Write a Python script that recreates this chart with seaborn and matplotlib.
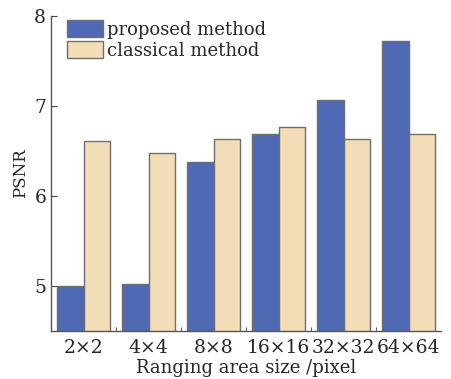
import numpy as np
import pandas as pd
import matplotlib
matplotlib.use("Agg")
import matplotlib.pyplot as plt
import seaborn as sns
from matplotlib.ticker import FixedLocator

# values
sizes = ["2×2", "4×4", "8×8", "16×16", "32×32", "64×64"]
proposed = [5.00, 5.02, 6.38, 6.69, 7.07, 7.72]
classical = [6.61, 6.48, 6.63, 6.76, 6.63, 6.69]
methods = ["proposed method", "classical method"]
colors = ["#4F69B4", "#F2DDB6"]

df = pd.DataFrame({
    "size": sizes * 2,
    "psnr": proposed + classical,
    "method": [methods[0]] * len(sizes) + [methods[1]] * len(sizes),
})

sns.set_style("ticks")
plt.rcParams["font.family"] = ["DejaVu Serif"]

fig = plt.figure(figsize=(4.52, 3.79), dpi=100)
ax = fig.add_axes([0.113, 0.127, 0.863, 0.831])

sns.barplot(data=df, x="size", y="psnr", hue="method", order=sizes,
            hue_order=methods, palette=colors, width=0.82, saturation=1,
            edgecolor="#6e6e6e", linewidth=1.0, ax=ax)

ax.set_ylim(4.5, 8)
ax.set_xlim(-0.5, 5.5)
ax.set_yticks([5, 6, 7, 8])
ax.xaxis.set_minor_locator(FixedLocator(np.arange(0.5, 5.5, 1)))
ax.tick_params(axis="x", which="major", length=0, labelsize=13.5, pad=6)
ax.tick_params(axis="x", which="minor", direction="in", length=3, color="#444444")
ax.tick_params(axis="y", direction="in", length=4, labelsize=13.5, color="#444444")
ax.set_xlabel("Ranging area size /pixel", fontsize=13, labelpad=1)
ax.set_ylabel("PSNR", fontsize=12, labelpad=4)

for side in ["top", "right"]:
    ax.spines[side].set_visible(False)
for side in ["left", "bottom"]:
    ax.spines[side].set_color("#555555")
    ax.spines[side].set_linewidth(1.0)

ax.legend(loc="upper left", bbox_to_anchor=(0.012, 1.02), frameon=False,
          fontsize=13, handlelength=2.0, handleheight=1.05,
          handletextpad=0.25, labelspacing=0.12, borderaxespad=0.2)

fig.savefig("out.png", dpi=100)
